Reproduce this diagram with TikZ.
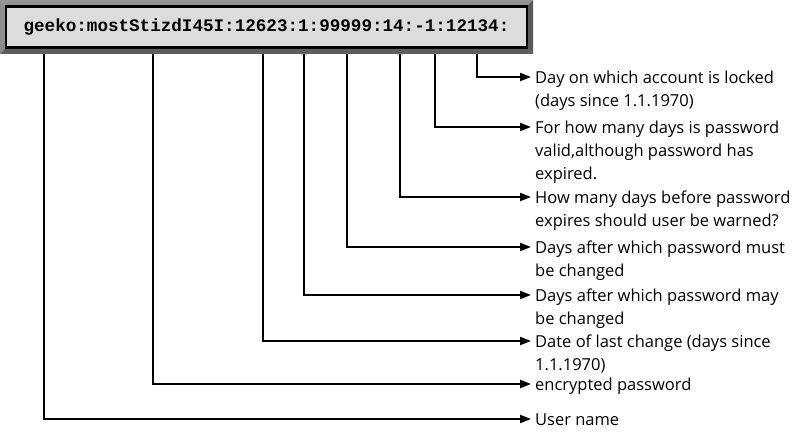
\documentclass[tikz,border=0pt]{standalone}
\usepackage{fontspec}
\setmainfont{Open Sans}
\newfontfamily\monofnt{Liberation Mono}
\usetikzlibrary{arrows.meta,calc}
\definecolor{bevtop}{HTML}{969696}
\definecolor{bevleft}{HTML}{8E8E8E}
\definecolor{bevbot}{HTML}{5E5E5E}
\definecolor{bevright}{HTML}{585858}
\definecolor{boxfill}{HTML}{DCDCDC}
\begin{document}
\begin{tikzpicture}[x=1pt,y=-1pt,
  conn/.style={line width=2pt,-{Triangle[length=11pt,width=8pt]}},
  lbl/.style={anchor=north west,inner sep=0pt,align=left,font=\fontsize{16.5}{23}\selectfont}]
\useasboundingbox (0,0) rectangle (793,436);
\node[draw=black,line width=3pt,fill=boxfill,minimum width=522pt,minimum height=41pt,inner sep=0pt,
  font=\monofnt\bfseries\fontsize{17.6}{18}\selectfont] (hdr) at (266.5,27)
  {geeko:mostStizdI45I:12623:1:99999:14:-1:12134:};
\node[lbl] (L1) at (535,67) {\strut Day on which account is locked\\(days since 1.1.1970)};
\node[lbl] (L2) at (535,117) {\strut For how many days is password\\valid,although password has\\expired.};
\node[lbl] (L3) at (535,187) {\strut How many days before password\\expires should user be warned?};
\node[lbl] (L4) at (535,237) {\strut Days after which password must\\be changed};
\node[lbl] (L5) at (535,285) {\strut Days after which password may\\be changed};
\node[lbl] (L6) at (535,331) {\strut Date of last change (days since\\1.1.1970)};
\node[lbl] (L7) at (535,374) {\strut encrypted password};
\node[lbl] (L8) at (535,409) {\strut User name};
\draw[conn] (477,0 |- hdr.south) |- ($(L1.north west)+(-4,10)$);
\draw[conn] (435,0 |- hdr.south) |- ($(L2.north west)+(-4,10)$);
\draw[conn] (400,0 |- hdr.south) |- ($(L3.north west)+(-4,10)$);
\draw[conn] (347,0 |- hdr.south) |- ($(L4.north west)+(-4,10)$);
\draw[conn] (304,0 |- hdr.south) |- ($(L5.north west)+(-4,10)$);
\draw[conn] (263,0 |- hdr.south) |- ($(L6.north west)+(-4,10)$);
\draw[conn] (153,0 |- hdr.south) |- ($(L7.north west)+(-4,10)$);
\draw[conn] (44,0 |- hdr.south) |- ($(L8.north west)+(-4,10)$);
\fill[bevtop] (0,0) -- (533,0) -- (528,5) -- (5,5) -- cycle;
\fill[bevleft] (0,0) -- (5,5) -- (5,49) -- (0,54) -- cycle;
\fill[bevbot] (0,54) -- (5,49) -- (528,49) -- (533,54) -- cycle;
\fill[bevright] (533,0) -- (533,54) -- (528,49) -- (528,5) -- cycle;
\end{tikzpicture}
\end{document}
